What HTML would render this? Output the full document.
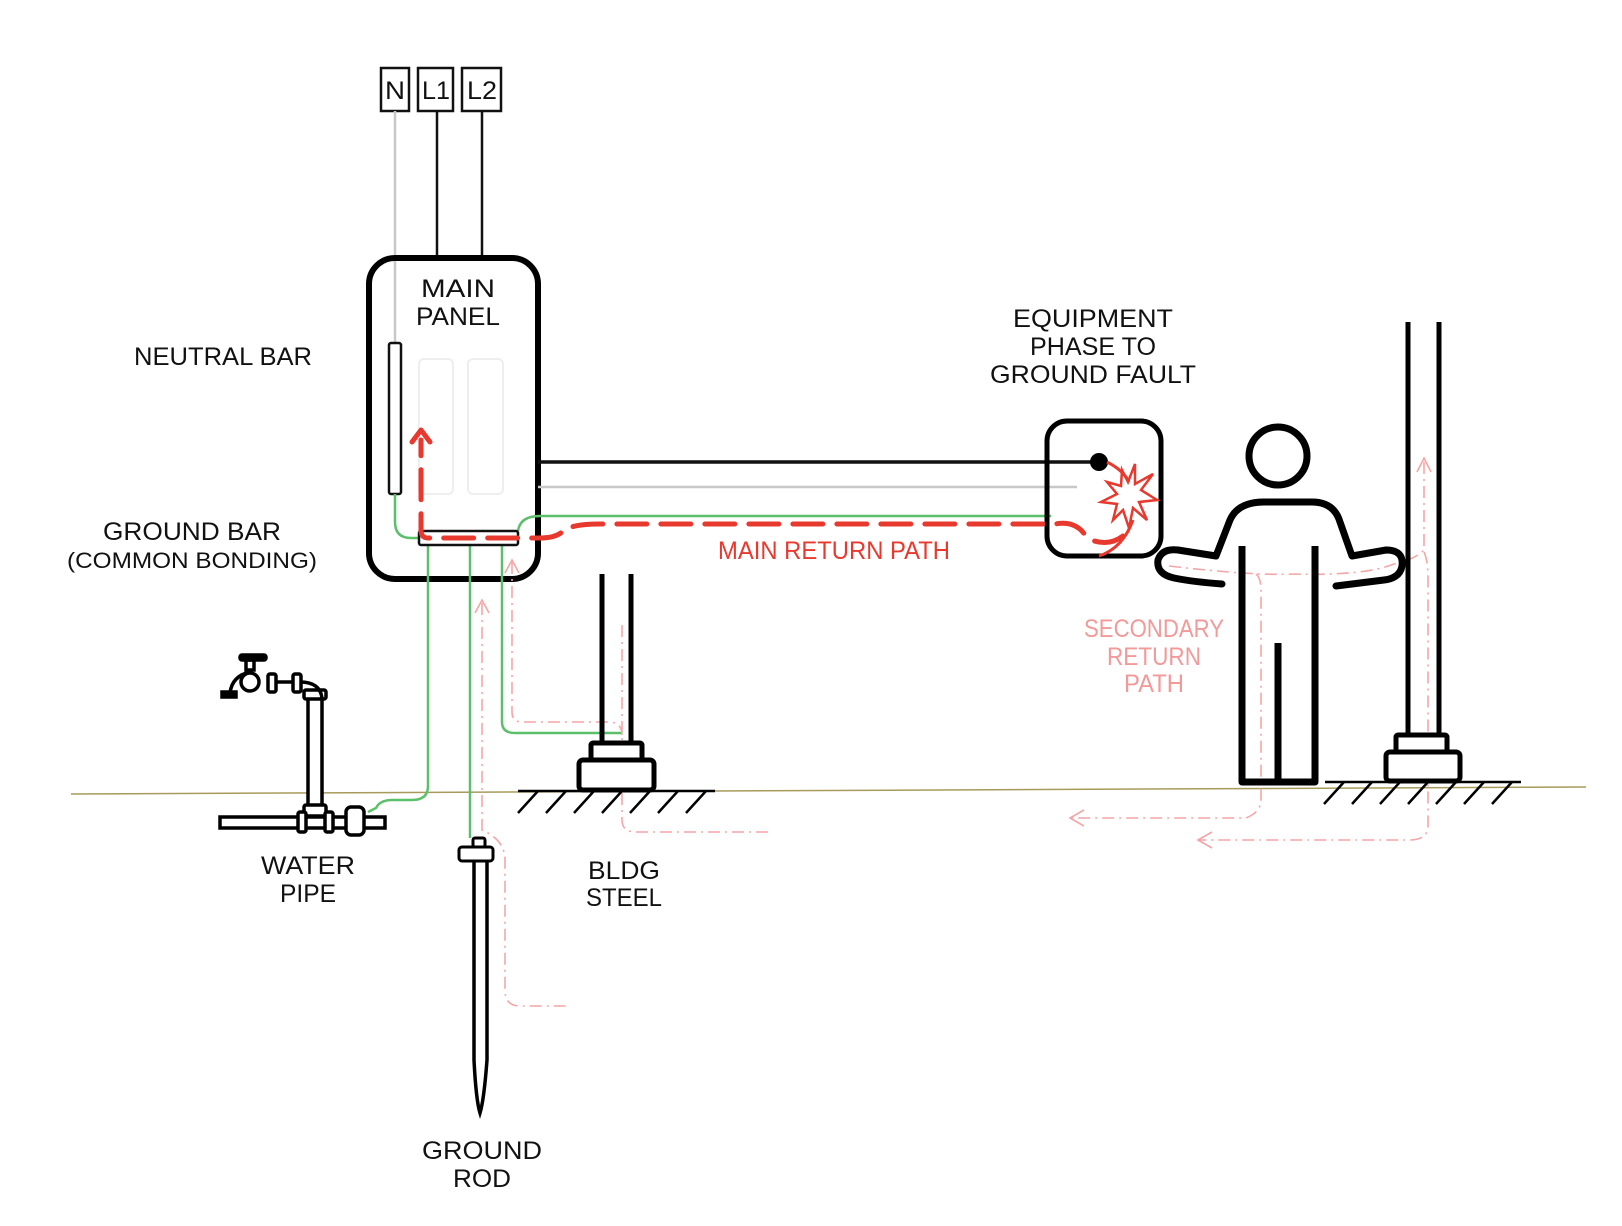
<!DOCTYPE html>
<html><head><meta charset="utf-8"><style>
html,body{margin:0;padding:0;background:#fff;}
svg{display:block;}
text{font-family:"Liberation Sans",sans-serif;font-size:25px;fill:#111;text-anchor:middle;}
.p{fill:#f29a9a;}
.r{fill:#e8392e;}
</style></head><body>
<svg width="1622" height="1226" viewBox="0 0 1622 1226" xmlns="http://www.w3.org/2000/svg">
<line x1="71" y1="794" x2="1586" y2="787" stroke="#a89a5a" stroke-width="1.5"/>

<g fill="#fff" stroke="#111" stroke-width="2.5">
<rect x="381" y="68" width="28" height="43"/>
<rect x="418" y="68" width="35" height="43"/>
<rect x="462" y="68" width="39" height="43"/>
</g>
<text x="395" y="99" textLength="20" lengthAdjust="spacingAndGlyphs">N</text>
<text x="436" y="99" textLength="28" lengthAdjust="spacingAndGlyphs">L1</text>
<text x="482" y="99" textLength="30" lengthAdjust="spacingAndGlyphs">L2</text>
<line x1="395" y1="111" x2="395" y2="345" stroke="#c8c8c8" stroke-width="2.5"/>
<line x1="437" y1="111" x2="437" y2="258" stroke="#111" stroke-width="2.5"/>
<line x1="482" y1="111" x2="482" y2="258" stroke="#111" stroke-width="2.5"/>

<rect x="369" y="258" width="169" height="321" rx="26" fill="none" stroke="#000" stroke-width="6"/>
<text x="458" y="297" textLength="74" lengthAdjust="spacingAndGlyphs">MAIN</text>
<text x="458" y="325" textLength="84" lengthAdjust="spacingAndGlyphs">PANEL</text>
<rect x="419" y="359" width="34" height="135" rx="5" fill="none" stroke="#eee" stroke-width="2"/>
<rect x="468" y="359" width="35" height="135" rx="5" fill="none" stroke="#eee" stroke-width="2"/>
<rect x="389" y="343" width="12" height="151" rx="2" fill="#fff" stroke="#111" stroke-width="2.5"/>

<g fill="none" stroke="#5cbf6a" stroke-width="2.5">
<path d="M395 494 V522 Q395 538 411 538 H419"/>
<path d="M518 531 Q520 516 540 516 H1051"/>
<path d="M428 545 V786 Q428 800 412 800 H392 Q380 800 376 808 L368 812"/>
<line x1="470" y1="545" x2="470" y2="838"/>
<path d="M502 545 V722 Q502 733 515 733 H622"/>
</g>
<rect x="419" y="531" width="99" height="14" rx="2" fill="#fff" stroke="#111" stroke-width="2.5"/>

<line x1="538" y1="462" x2="1099" y2="462" stroke="#111" stroke-width="3.5"/>
<line x1="538" y1="487" x2="1077" y2="487" stroke="#c8c8c8" stroke-width="2.5"/>

<g transform="translate(-5,0)">
<rect x="1052" y="421" width="114" height="135" rx="20" fill="none" stroke="#000" stroke-width="5"/>
<circle cx="1104" cy="462" r="9" fill="#000"/>
<text x="1098" y="327" textLength="160" lengthAdjust="spacingAndGlyphs">EQUIPMENT</text>
<text x="1098" y="355" textLength="126" lengthAdjust="spacingAndGlyphs">PHASE TO</text>
<text x="1098" y="383" textLength="206" lengthAdjust="spacingAndGlyphs">GROUND FAULT</text>
<g fill="none" stroke="#e8392e" stroke-width="3">
<path d="M1112 462 Q1128 470 1134 482"/>
<path d="M1104 556 Q1128 548 1138 520"/>
<path d="M1127 470 L1133 482 L1140 464 L1140 484 L1158 474 L1146 490 L1162 500 L1144 502 L1152 520 L1138 508 L1134 528 L1128 510 L1118 520 L1122 504 L1106 502 L1122 494 L1112 482 L1126 486 Z" stroke-width="2.5"/>
</g>
</g>

<path d="M1123 536 Q1107 548 1087 538 Q1077 520 1055 524 L600 524 Q570 524 562 532 Q555 538 540 538 H428 Q421 538 421 530 V440" fill="none" stroke="#e8392e" stroke-width="5" stroke-dasharray="30 14" stroke-linecap="round"/>
<path d="M412 442 L421 430 L430 442" fill="none" stroke="#e8392e" stroke-width="5" stroke-linecap="round" stroke-linejoin="round"/>
<text class="r" x="834" y="559" textLength="232" lengthAdjust="spacingAndGlyphs">MAIN RETURN PATH</text>

<text x="223" y="365" textLength="178" lengthAdjust="spacingAndGlyphs">NEUTRAL BAR</text>
<text x="192" y="540" textLength="178" lengthAdjust="spacingAndGlyphs">GROUND BAR</text>
<text x="192" y="568" style="font-size:22px" textLength="250" lengthAdjust="spacingAndGlyphs">(COMMON BONDING)</text>

<g fill="none" stroke="#f4a6a6" stroke-width="1.6" stroke-dasharray="12 5 2 5">
<path d="M482 603 V830 Q505 840 505 860 V990 Q505 1006 520 1006 H567"/>
<path d="M512 562 V712 Q512 722 522 722 H608 Q622 722 622 735"/>
<path d="M622 625 V820 Q622 832 636 832 H770"/>
</g>
<g fill="none" stroke="#f4a6a6" stroke-width="1.6">
<path d="M475 613 L482 600 L489 613"/>
<path d="M505 573 L512 560 L519 573"/>
</g>

<g transform="translate(-6,0)">
<g fill="none" stroke="#f4a6a6" stroke-width="1.6" stroke-dasharray="12 5 2 5">
<path d="M1175 566 Q1260 576 1300 574 Q1370 576 1400 564 Q1420 560 1430 550 V460"/>
<path d="M1262 574 Q1267 578 1267 590 V800 Q1267 812 1252 818 H1077"/>
<path d="M1430 552 Q1434 560 1434 580 V828 Q1432 840 1416 840 H1205"/>
</g>
<g fill="none" stroke="#f4a6a6" stroke-width="1.6">
<path d="M1423 472 L1430 458 L1437 472"/>
<path d="M1090 810 L1076 818 L1090 826"/>
<path d="M1218 832 L1204 840 L1218 848"/>
</g>
<text class="p" x="1160" y="637" textLength="140" lengthAdjust="spacingAndGlyphs">SECONDARY</text>
<text class="p" x="1160" y="665" textLength="94" lengthAdjust="spacingAndGlyphs">RETURN</text>
<text class="p" x="1160" y="692" textLength="60" lengthAdjust="spacingAndGlyphs">PATH</text>

<g fill="none" stroke="#000" stroke-width="7" stroke-linecap="round" stroke-linejoin="round">
<circle cx="1284" cy="456" r="29"/>
<path d="M1228 584 Q1200 582 1180 578 Q1162 574 1164 560 Q1168 548 1184 550 L1222 556 L1236 520 Q1244 502 1270 502 H1318 Q1340 502 1346 522 L1358 556 L1392 550 Q1410 550 1408 566 Q1406 578 1390 580 L1342 586"/>
<path d="M1248 546 V782 H1321 V546" stroke-linecap="butt"/>
<line x1="1284" y1="643" x2="1284" y2="782" stroke-linecap="butt"/>
</g>

<g stroke="#000" stroke-width="5" fill="#fff">
<line x1="1414" y1="322" x2="1414" y2="735"/>
<line x1="1445" y1="322" x2="1445" y2="735"/>
<rect x="1402" y="735" width="51" height="17" rx="2"/>
<rect x="1392" y="752" width="74" height="29" rx="4"/>
</g>
<g stroke="#000" stroke-width="2.5">
<line x1="1331" y1="782" x2="1527" y2="782"/>
<path d="M1350 782 l-20 22 M1378 782 l-20 22 M1406 782 l-20 22 M1434 782 l-20 22 M1462 782 l-20 22 M1490 782 l-20 22 M1518 782 l-20 22"/>
</g>
</g>

<g stroke="#000" stroke-width="5" fill="#fff">
<line x1="602" y1="574" x2="602" y2="743"/>
<line x1="631" y1="574" x2="631" y2="743"/>
<rect x="591" y="743" width="51" height="17" rx="2"/>
<rect x="579" y="760" width="75" height="30" rx="4"/>
</g>
<g stroke="#000" stroke-width="2.5">
<line x1="518" y1="791" x2="715" y2="791"/>
<path d="M538 791 l-20 22 M566 791 l-20 22 M594 791 l-20 22 M622 791 l-20 22 M650 791 l-20 22 M678 791 l-20 22 M706 791 l-20 22"/>
</g>
<text x="624" y="879" textLength="72" lengthAdjust="spacingAndGlyphs">BLDG</text>
<text x="624" y="906" textLength="76" lengthAdjust="spacingAndGlyphs">STEEL</text>

<g stroke="#000" stroke-width="3.5" fill="#fff">
<rect x="220" y="817" width="165" height="11"/>
<rect x="308" y="697" width="14" height="114"/>
<rect x="304" y="805" width="22" height="11" rx="2"/>
<rect x="298" y="812" width="8" height="20" rx="2"/>
<rect x="325" y="812" width="8" height="20" rx="2"/>
<rect x="346" y="807" width="18" height="28" rx="5"/>
<rect x="304" y="690" width="22" height="9" rx="2"/>
<path d="M270 682 H300 Q320 682 322 698" fill="none"/>
<rect x="268" y="674" width="8" height="18" rx="2"/>
<rect x="293" y="674" width="8" height="18" rx="2"/>
<circle cx="250" cy="682" r="9"/>
<path d="M230 693 Q232 676 250 672" fill="none"/>
<rect x="246" y="660" width="8" height="10"/>
<rect x="240" y="655" width="26" height="5" rx="2" fill="#000"/>
<rect x="222" y="692" width="14" height="5" fill="#000"/>
</g>
<text x="308" y="874" textLength="94" lengthAdjust="spacingAndGlyphs">WATER</text>
<text x="308" y="902" textLength="56" lengthAdjust="spacingAndGlyphs">PIPE</text>

<g stroke="#000" stroke-width="3" fill="#fff">
<rect x="473" y="838" width="12" height="9" rx="2"/>
<rect x="459" y="847" width="34" height="14" rx="3"/>
<path d="M474 861 L474 1060 Q476 1100 480 1113 Q484 1100 487 1060 L487 861" fill="none" stroke-width="3.5"/>
</g>
<text x="482" y="1159" textLength="120" lengthAdjust="spacingAndGlyphs">GROUND</text>
<text x="482" y="1187" textLength="58" lengthAdjust="spacingAndGlyphs">ROD</text>
</svg>
</body></html>
